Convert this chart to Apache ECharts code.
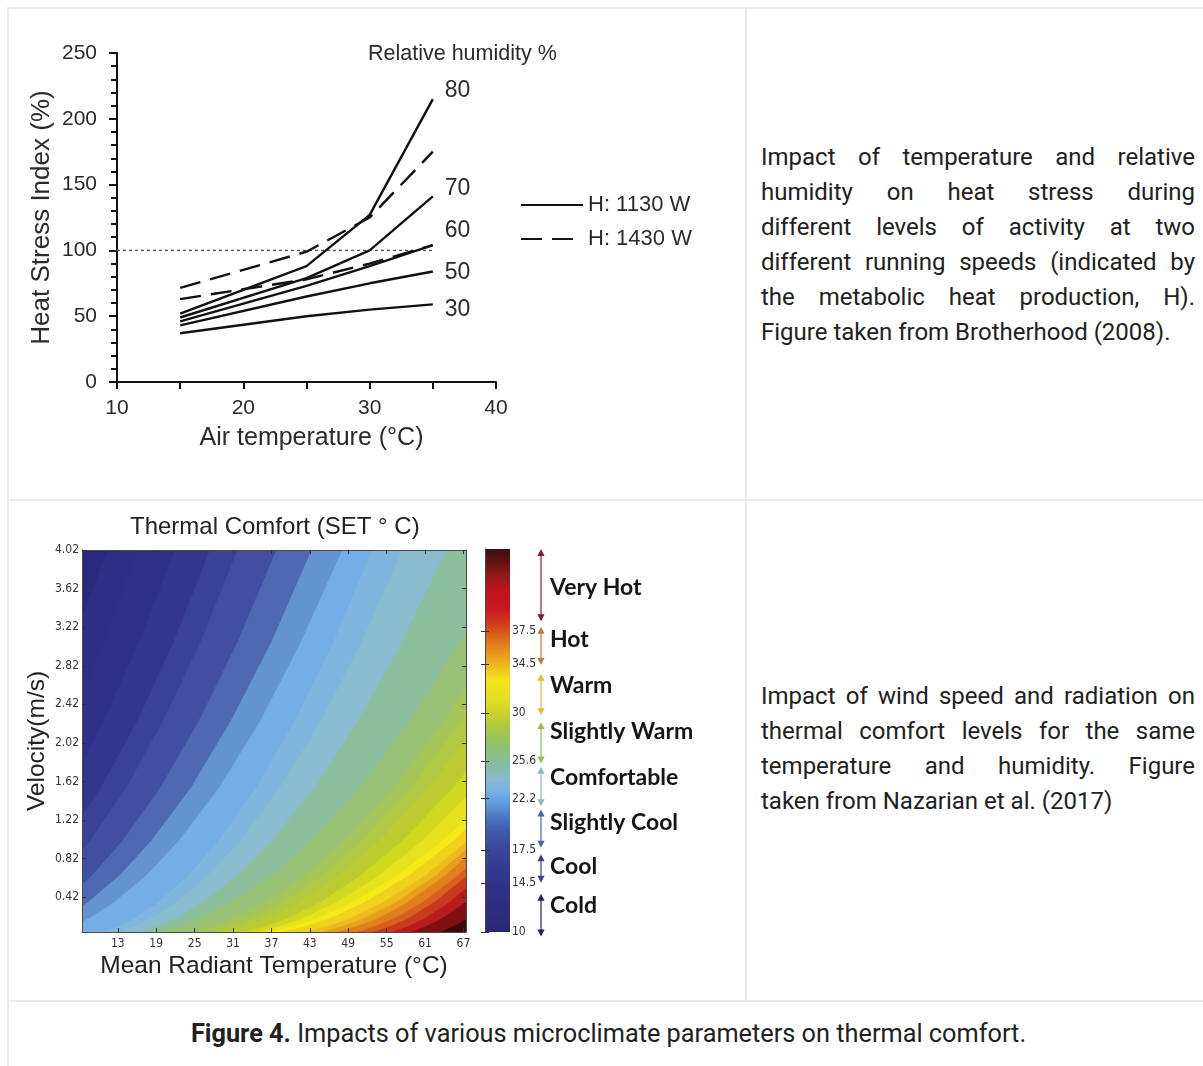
<!DOCTYPE html>
<html><head><meta charset="utf-8">
<script src="https://cdn.jsdelivr.net/npm/echarts@6/dist/echarts.min.js"></script>
<style>
html,body{margin:0;padding:0;background:#fff;width:1203px;height:1066px;overflow:hidden;}
.hl{position:absolute;height:2px;background:#ebebeb;}
.vl{position:absolute;width:2px;background:#ebebeb;}
.para{position:absolute;left:761px;width:434px;font-family:Roboto,sans-serif;font-size:24px;line-height:35px;color:#212121;}
.para div{text-align:justify;text-align-last:justify;white-space:nowrap;}
.para div.last{text-align-last:left;}
.cap{position:absolute;left:8px;width:1201px;top:1016px;text-align:center;font-family:Roboto,sans-serif;font-size:25.3px;line-height:36px;color:#212121;}
#chart{position:absolute;left:0;top:0;width:1203px;height:1066px;}
</style></head>
<body>
<div class="hl" style="left:8px;top:7px;width:1195px"></div>
<div class="vl" style="left:7px;top:7px;height:1059px"></div>
<div class="vl" style="left:745px;top:7px;height:995px"></div>
<div class="hl" style="left:8px;top:499px;width:1195px"></div>
<div class="hl" style="left:8px;top:1000px;width:1195px"></div>
<div class="para" style="top:140px">
<div>Impact of temperature and relative</div>
<div>humidity on heat stress during</div>
<div>different levels of activity at two</div>
<div>different running speeds (indicated by</div>
<div>the metabolic heat production, H).</div>
<div class="last">Figure taken from Brotherhood (2008).</div>
</div>
<div class="para" style="top:679px">
<div>Impact of wind speed and radiation on</div>
<div>thermal comfort levels for the same</div>
<div>temperature and humidity. Figure</div>
<div class="last">taken from Nazarian et al. (2017)</div>
</div>
<div class="cap"><b>Figure 4.</b> Impacts of various microclimate parameters on thermal comfort.</div>
<div id="chart"></div>
<script>
// ---------- Panel A: heat stress index ----------
const airTemp = [15, 25, 30, 35];
const rhLabels = ['80', '70', '60', '50', '30'];
const hsi1130 = [
  [52, 88, 127, 215],
  [49, 79, 100, 141],
  [46, 73, 88, 104],
  [43, 65, 75, 84],
  [37, 50, 55, 59]
];
const hsi1430 = [
  [71.5, 99, 125, 175],
  [63, 78, 90, 104]
];
const refLine = [[10, 100], [35, 100]];
const legendNames = ['H: 1130 W', 'H: 1430 W'];

// ---------- Panel B: thermal comfort contour (SET °C) ----------
const mrtExtent = [7.4, 67.4];
const velExtent = [0.06, 4.02];
const mrtTicks = [13, 19, 25, 31, 37, 43, 49, 55, 61, 67];
const velTicks = [0.42, 0.82, 1.22, 1.62, 2.02, 2.42, 2.82, 3.22, 3.62, 4.02];
// velocity rows at which each band boundary is read (m/s)
const velRows = [4.02, 3.06, 2.25, 1.56, 1.0, 0.64, 0.36, 0.2, 0.12, 0.06];
// MRT (°C) of each band boundary at those rows, coolest boundary first
const b01 = [11.3, 6.0, 0.7, -4.6, -9.8, -14.0, -18.2, -21.4, -23.5, -25.7];
const b02 = [16.1, 10.8, 5.5, 0.3, -5.0, -9.2, -13.4, -16.6, -18.7, -20.9];
const b03 = [21.9, 16.3, 10.8, 5.3, -0.2, -4.6, -9.0, -12.3, -14.6, -16.8];
const b04 = [27.4, 21.7, 16.1, 10.4, 4.8, 0.3, -4.2, -7.6, -9.9, -12.2];
const b05 = [31.7, 25.9, 20.1, 14.4, 8.6, 4.0, -0.6, -4.1, -6.4, -8.8];
const b06 = [37.8, 31.7, 25.7, 19.7, 13.7, 8.9, 4.1, 0.5, -2.0, -4.4];
const b07 = [43.3, 37.0, 30.7, 24.5, 18.2, 13.2, 8.2, 4.5, 1.9, -0.7];
const b08 = [48.1, 41.6, 35.3, 28.9, 22.5, 17.4, 12.3, 8.5, 5.8, 3.2];
const b09 = [52.8, 46.7, 40.7, 34.7, 28.7, 24.0, 19.2, 15.6, 13.1, 10.7];
const b10 = [57.5, 51.1, 44.8, 38.4, 32.1, 27.0, 22.0, 18.2, 15.6, 13.0];
const b11 = [64.4, 57.4, 50.6, 43.8, 37.0, 31.6, 26.1, 22.1, 19.2, 16.5];
const b12 = [74.5, 66.5, 58.7, 50.9, 43.1, 36.9, 30.6, 25.9, 22.7, 19.5];
const b13 = [79.8, 71.8, 64.0, 56.2, 48.4, 42.2, 35.9, 31.2, 28.0, 24.8];
const b14 = [82.4, 74.5, 66.7, 58.9, 51.1, 44.8, 38.6, 33.9, 30.6, 27.5];
const b15 = [85.5, 77.4, 69.6, 61.7, 53.8, 47.5, 41.2, 36.5, 33.2, 30.0];
const b16 = [89.9, 81.6, 73.6, 65.5, 57.4, 50.9, 44.5, 39.6, 36.3, 33.0];
const b17 = [94.5, 85.9, 77.4, 69.0, 60.5, 53.7, 47.0, 41.9, 38.4, 35.0];
const b18 = [99.5, 90.4, 81.5, 72.6, 63.7, 56.6, 49.5, 44.1, 40.4, 36.8];
const b19 = [100.4, 91.5, 82.8, 74.1, 65.4, 58.4, 51.4, 46.2, 42.5, 39.0];
const b20 = [101.0, 92.5, 84.2, 75.9, 67.6, 61.0, 54.3, 49.3, 45.9, 42.5];
const b21 = [100.7, 92.6, 84.7, 76.8, 68.9, 62.6, 56.3, 51.5, 48.2, 45.0];
const b22 = [100.1, 92.5, 85.1, 77.6, 70.1, 64.1, 58.1, 53.7, 50.5, 47.5];
const b23 = [99.9, 92.8, 85.8, 78.7, 71.7, 66.1, 60.5, 56.2, 53.3, 50.5];
const b24 = [99.1, 92.5, 85.9, 79.4, 72.8, 67.6, 62.3, 58.4, 55.7, 53.0];
const b25 = [99.1, 92.9, 86.8, 80.6, 74.5, 69.6, 64.7, 61.0, 58.5, 56.0];
const b26 = [99.6, 93.7, 88.0, 82.2, 76.4, 71.8, 67.2, 63.7, 61.3, 59.0];
const b27 = [99.4, 94.2, 89.1, 84.0, 78.9, 74.8, 70.7, 67.7, 65.6, 63.5];
const bandBounds = [b01,b02,b03,b04,b05,b06,b07,b08,b09,b10,b11,b12,b13,b14,b15,b16,b17,b18,b19,b20,b21,b22,b23,b24,b25,b26,b27];

// colour bar (SET °C)
const cbExtent = [10, 45];
const cbTicks = [10, 14.5, 17.5, 22.2, 25.6, 30, 34.5, 37.5];
// comfort classes (arrow extents read in SET units)
const catNames = ['Very Hot', 'Hot', 'Warm', 'Slightly Warm', 'Comfortable', 'Slightly Cool', 'Cool', 'Cold'];
const catTop = [45.0, 37.9, 33.6, 29.2, 25.1, 21.2, 17.1, 13.5];
const catBottom = [38.4, 34.4, 29.8, 25.4, 21.5, 17.7, 14.5, 9.6];

// ---------- styles ----------
const bandColors = ['#2a2a7c','#2d2e84','#2f3189','#33368d','#3a4296','#424e9f','#4e68b2','#6494d0','#74aee6','#80b6de','#8abccf','#8cbf9c','#9ac276','#a6c558','#b0c842','#bccc30','#d0d820','#e6e21e','#f4ea18','#f0d21c','#ecbc1e','#e6a01e','#e0801c','#d8601e','#c83a20','#b81c1c','#801010','#3c0a0a'];
const cbStops = [[10,'#28266e'],[10.5,'#2a2a78'],[12.3,'#2c2e80'],[14.2,'#2e3388'],[16,'#343c90'],[17.6,'#3a469a'],[19.1,'#4258a8'],[20.3,'#4a70c0'],[21.5,'#5a94d8'],[22.8,'#74b0e4'],[24,'#88bcd0'],[25.2,'#84bca0'],[27,'#90c070'],[28.5,'#a8c846'],[30,'#c8d42c'],[31.5,'#e8e020'],[33,'#f4e418'],[34.5,'#ecb41c'],[35.7,'#e8901c'],[37.3,'#d85a1c'],[38.2,'#d03a1e'],[39.7,'#c8141e'],[41.2,'#c0141c'],[42.8,'#8c1818'],[44,'#5a1212'],[45,'#3c0e0e']];
const catColors = ['#8b1a2b','#c77a36','#e8b936','#93bf4f','#7dbfc4','#4566ad','#3b3f8f','#222459'];
const catLabelDy = [2, -6, -9, -11, -9, -6, -2, -9];
const endLabelDy = [-8, -8, -14, 1, 5];
const txt = '#2b2b2b';
const sans = 'Liberation Sans';
const narrow = '"DejaVu Sans Condensed", "Liberation Sans", sans-serif';

const chart = echarts.init(document.getElementById('chart'), null, {renderer: 'canvas'});

function renderBand(params, api) {
  const k = params.dataIndex;
  const cs = params.coordSys;
  const color = bandColors[k];
  let pts;
  if (k === 0) {
    pts = [api.coord([mrtExtent[0], velExtent[1]]), api.coord([mrtExtent[1], velExtent[1]]),
           api.coord([mrtExtent[1], velExtent[0]]), api.coord([mrtExtent[0], velExtent[0]])];
  } else {
    const xs = bandBounds[k - 1];
    pts = xs.map((x, i) => api.coord([x, velRows[i]]));
    const far = cs.x + cs.width + 400;
    pts.push([far, pts[pts.length - 1][1]]);
    pts.push([far, pts[0][1]]);
  }
  return {type: 'polygon', shape: {points: pts}, style: {fill: color, stroke: color, lineWidth: 0.6}};
}

function renderBar(params, api) {
  const p0 = api.coord([0, cbExtent[1]]);
  const p1 = api.coord([1, cbExtent[0]]);
  const span = cbExtent[1] - cbExtent[0];
  const stops = cbStops.map(([v, c]) => ({offset: (cbExtent[1] - v) / span, color: c})).sort((a, b) => a.offset - b.offset);
  return {type: 'rect', shape: {x: p0[0], y: p0[1], width: p1[0] - p0[0], height: p1[1] - p0[1]},
          style: {fill: new echarts.graphic.LinearGradient(0, 0, 0, 1, stops)}};
}

function renderCat(params, api) {
  const i = params.dataIndex;
  const t = api.coord([0.5, catTop[i]]);
  const b = api.coord([0.5, catBottom[i]]);
  const c = catColors[i];
  const x = t[0], h = 7, w = 3.6;
  const mid = (t[1] + b[1]) / 2;
  return {type: 'group', children: [
    {type: 'line', shape: {x1: x, y1: t[1] + h - 1, x2: x, y2: b[1] - h + 1}, style: {stroke: c, lineWidth: 1.2}},
    {type: 'polygon', shape: {points: [[x, t[1]], [x - w, t[1] + h], [x + w, t[1] + h]]}, style: {fill: c}},
    {type: 'polygon', shape: {points: [[x, b[1]], [x - w, b[1] - h], [x + w, b[1] - h]]}, style: {fill: c}},
    {type: 'text', style: {text: catNames[i], x: x + 9, y: mid + catLabelDy[i], fill: '#151515',
      font: 'bold 23px Lato', align: 'left', verticalAlign: 'middle'}}
  ]};
}

const series = [];
hsi1130.forEach((vals, i) => {
  series.push({
    type: 'line', name: legendNames[0], xAxisIndex: 0, yAxisIndex: 0,
    data: airTemp.map((t, j) => [t, vals[j]]), symbol: 'none', silent: true,
    lineStyle: {color: '#111', width: 2.4}, itemStyle: {color: '#111'},
    endLabel: {show: true, formatter: () => rhLabels[i], distance: 12, offset: [0, endLabelDy[i]],
      fontSize: 23, color: txt, fontFamily: sans}
  });
});
hsi1430.forEach((vals) => {
  series.push({
    type: 'line', name: legendNames[1], xAxisIndex: 0, yAxisIndex: 0,
    data: airTemp.map((t, j) => [t, vals[j]]), symbol: 'none', silent: true,
    lineStyle: {color: '#111', width: 2.4, type: [21, 10]}, itemStyle: {color: '#111'}
  });
});
series.push({
  type: 'line', name: 'ref', xAxisIndex: 0, yAxisIndex: 0, data: refLine, symbol: 'none', silent: true,
  lineStyle: {color: '#555', width: 1.3, type: [3, 3]}, z: 1
});
series.push({
  type: 'custom', xAxisIndex: 1, yAxisIndex: 1, clip: true, silent: true,
  data: bandColors.map((c, i) => [i]), renderItem: renderBand
});
series.push({
  type: 'custom', xAxisIndex: 3, yAxisIndex: 3, silent: true,
  data: [[0, cbExtent[0]]], renderItem: renderBar
});
series.push({
  type: 'custom', xAxisIndex: 4, yAxisIndex: 5, silent: true,
  data: catNames.map((n, i) => [0.5, catTop[i]]), renderItem: renderCat
});

const smallLbl = {fontSize: 12, color: '#333', fontFamily: narrow};
const boxLine = {show: true, lineStyle: {color: '#4a4a4a', width: 1}};

chart.setOption({
  animation: false,
  textStyle: {fontFamily: sans},
  legend: {
    data: legendNames, orient: 'vertical', left: 515, top: 189, itemWidth: 62, itemHeight: 14, itemGap: 12,
    textStyle: {fontSize: 22, color: txt, fontFamily: sans}, selectedMode: false,
    itemStyle: {opacity: 0, color: 'rgba(0,0,0,0)', borderWidth: 0}
  },
  grid: [
    {left: 117, top: 53, width: 379, height: 329},
    {left: 82, top: 550, width: 384, height: 382},
    {left: 485, top: 549, width: 25, height: 383},
    {left: 531, top: 549, width: 20, height: 383}
  ],
  xAxis: [
    {gridIndex: 0, type: 'value', min: 10, max: 40, interval: 10,
     axisLine: {show: true, lineStyle: {color: '#111', width: 2}},
     axisTick: {show: true, length: 7, lineStyle: {color: '#111', width: 2}},
     minorTick: {show: true, splitNumber: 2, length: 7, lineStyle: {color: '#111', width: 2}},
     splitLine: {show: false},
     axisLabel: {fontSize: 21, color: txt, margin: 16, fontFamily: sans},
     name: 'Air temperature (°C)', nameLocation: 'middle', nameGap: 44,
     nameTextStyle: {fontSize: 25, color: txt, fontFamily: sans, padding: [0, 0, 0, 10]}},
    {gridIndex: 1, type: 'value', min: mrtExtent[0], max: mrtExtent[1], z: 10,
     axisLine: boxLine,
     axisTick: {show: true, inside: true, length: 4, customValues: mrtTicks, lineStyle: {color: '#333'}},
     splitLine: {show: false},
     axisLabel: Object.assign({customValues: mrtTicks, margin: 6}, smallLbl),
     name: 'Mean Radiant Temperature (°C)', nameLocation: 'middle', nameGap: 22,
     nameTextStyle: {fontSize: 24.5, color: '#222', fontFamily: sans}},
    {gridIndex: 1, type: 'value', position: 'top', min: mrtExtent[0], max: mrtExtent[1], z: 10,
     axisLine: boxLine,
     axisTick: {show: true, inside: true, length: 4, customValues: mrtTicks, lineStyle: {color: '#333'}},
     splitLine: {show: false}, axisLabel: {show: false}},
    {gridIndex: 2, type: 'value', min: 0, max: 1, show: false},
    {gridIndex: 3, type: 'value', min: 0, max: 1, show: false}
  ],
  yAxis: [
    {gridIndex: 0, type: 'value', min: 0, max: 250, interval: 50,
     axisLine: {show: true, lineStyle: {color: '#111', width: 2}},
     axisTick: {show: true, length: 8, lineStyle: {color: '#111', width: 2}},
     minorTick: {show: true, splitNumber: 5, length: 6, lineStyle: {color: '#111', width: 2}},
     splitLine: {show: false},
     axisLabel: {fontSize: 21, color: txt, margin: 20, fontFamily: sans},
     name: 'Heat Stress Index (%)', nameLocation: 'middle', nameGap: 62,
     nameTextStyle: {fontSize: 26, color: txt, fontFamily: sans}},
    {gridIndex: 1, type: 'value', min: velExtent[0], max: velExtent[1], z: 10,
     axisLine: boxLine,
     axisTick: {show: true, inside: true, length: 4, customValues: velTicks, lineStyle: {color: '#333'}},
     splitLine: {show: false},
     axisLabel: Object.assign({customValues: velTicks, margin: 3, formatter: v => v.toFixed(2)}, smallLbl),
     name: 'Velocity(m/s)', nameLocation: 'middle', nameGap: 32,
     nameTextStyle: {fontSize: 24.5, color: '#222', fontFamily: sans}},
    {gridIndex: 1, type: 'value', position: 'right', min: velExtent[0], max: velExtent[1], z: 10,
     axisLine: boxLine,
     axisTick: {show: true, inside: true, length: 4, customValues: velTicks, lineStyle: {color: '#333'}},
     splitLine: {show: false}, axisLabel: {show: false}},
    {gridIndex: 2, type: 'value', position: 'right', min: cbExtent[0], max: cbExtent[1], z: 10,
     axisLine: boxLine,
     axisTick: {show: true, inside: true, length: 4, customValues: cbTicks, lineStyle: {color: '#333'}},
     splitLine: {show: false},
     axisLabel: Object.assign({customValues: cbTicks, margin: 2}, smallLbl)},
    {gridIndex: 2, type: 'value', position: 'left', min: cbExtent[0], max: cbExtent[1], z: 10,
     axisLine: boxLine,
     axisTick: {show: true, inside: true, length: 4, customValues: cbTicks, lineStyle: {color: '#333'}},
     splitLine: {show: false}, axisLabel: {show: false}},
    {gridIndex: 3, type: 'value', min: cbExtent[0], max: cbExtent[1], show: false}
  ],
  graphic: [
    {type: 'text', left: 368, top: 43, style: {text: 'Relative humidity %', font: '21.5px "Liberation Sans"', fill: txt}},
    {type: 'text', left: 130, top: 515, style: {text: 'Thermal Comfort (SET ° C)', font: '24px "Liberation Sans"', fill: '#222'}}
  ],
  series: series
});
</script>
</body></html>
